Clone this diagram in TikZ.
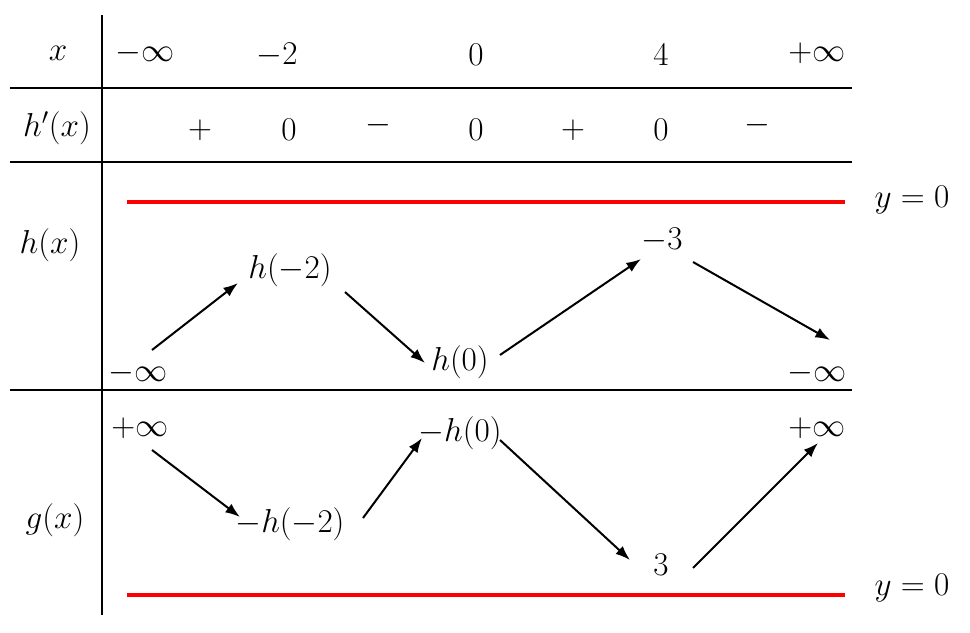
\documentclass[tikz,border=0pt]{standalone}
\usetikzlibrary{arrows.meta}
\begin{document}
\begin{tikzpicture}[x=0.75pt, y=-0.75pt, inner sep=4pt,
  every node/.style={font=\fontsize{24}{28}\selectfont},
  rule/.style={line width=1.4pt},
  limit/.style={red, line width=2.4pt},
  trend/.style={-{Latex[length=11pt,width=8pt]}, line width=1.5pt}]
\useasboundingbox (0,0) rectangle (970,632);

% grid
\draw[rule] (102,15) -- (102,615);
\draw[rule] (10,88) -- (852,88);
\draw[rule] (10,162) -- (852,162);
\draw[rule] (10,390) -- (852,390);

% asymptotes
\draw[limit] (127,202) -- (845,202);
\draw[limit] (127,595) -- (845,595);
\node (ya) at (912,200) {$y=0$};
\node (yb) at (912,588) {$y=0$};

% x row
\node (lx) at (58,53) {$x$};
\node (x1) at (145,53) {$-\infty$};
\node (x2) at (277,55) {$-2$};
\node (x3) at (476,55) {$0$};
\node (x4) at (661,55) {$4$};
\node (x5) at (817,53) {$+\infty$};

% sign row
\node (ld) at (57,128) {$h'(x)$};
\node (s1) at (200,130) {$+$};
\node (z1) at (289,130) {$0$};
\node (s2) at (378,125) {$-$};
\node (z2) at (476,130) {$0$};
\node (s3) at (573,130) {$+$};
\node (z3) at (661,130) {$0$};
\node (s4) at (757,125) {$-$};

% h row
\node (lh) at (50,245) {$h(x)$};
\node (h1) at (138,373) {$-\infty$};
\node (h2) at (290,270) {$h(-2)$};
\node (h3) at (460,362) {$h(0)$};
\node (h4) at (662,240) {$-3$};
\node (h5) at (817,373) {$-\infty$};
\draw[trend] ([shift={(14,-23)}]h1.center) -- ([shift={(-52,13)}]h2.center);
\draw[trend] ([shift={(55,22)}]h2.center) -- ([shift={(-35,1)}]h3.center);
\draw[trend] ([shift={(40,-7)}]h3.center) -- ([shift={(-21,19)}]h4.center);
\draw[trend] ([shift={(31,22)}]h4.center) -- ([shift={(13,-33)}]h5.center);

% g row
\node (lg) at (55,520) {$g(x)$};
\node (g1) at (140,428) {$+\infty$};
\node (g2) at (290,524) {$-h(-2)$};
\node (g3) at (460,433) {$-h(0)$};
\node (g4) at (661,565) {$3$};
\node (g5) at (817,428) {$+\infty$};
\draw[trend] ([shift={(12,22)}]g1.center) -- ([shift={(-50,-7)}]g2.center);
\draw[trend] ([shift={(73,-6)}]g2.center) -- ([shift={(-38,5)}]g3.center);
\draw[trend] ([shift={(40,7)}]g3.center) -- ([shift={(-31,-5)}]g4.center);
\draw[trend] ([shift={(32,3)}]g4.center) -- ([shift={(1,15)}]g5.center);
\end{tikzpicture}
\end{document}
